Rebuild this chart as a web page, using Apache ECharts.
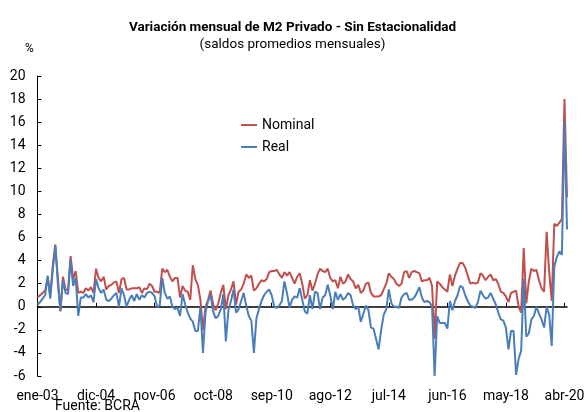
<!DOCTYPE html>
<html>
<head>
<meta charset="UTF-8">
<title>M2 Privado</title>
<script src="https://cdn.jsdelivr.net/npm/echarts@6/dist/echarts.min.js"></script>
<style>
  html, body { margin: 0; padding: 0; background: #fff; }
  #main { width: 585px; height: 412px; }
</style>
</head>
<body>
<div id="main"></div>
<script>
// meses ene-03 .. may-20
var mesesCortos = ['ene','feb','mar','abr','may','jun','jul','ago','sep','oct','nov','dic'];
var meses = [];
for (var y = 2003; y <= 2020; y++) {
  for (var m = 0; m < 12; m++) {
    if (y === 2020 && m > 4) break;
    meses.push(mesesCortos[m] + '-' + String(y).slice(2));
  }
}

// variación mensual nominal (%)
var nominal = [
  0.8,1.0,1.2,1.4,2.5,1.0,3.6,5.4,2.5,-0.4,2.6,1.5,
  1.4,4.4,2.4,3.1,1.2,1.3,1.2,1.6,1.4,1.7,1.2,3.3,
  2.5,2.2,2.6,1.5,1.8,1.9,2.1,2.2,1.2,2.4,2.5,1.5,
  1.5,1.6,1.6,1.6,1.7,1.2,1.6,1.5,2.0,1.8,1.3,1.3,
  1.2,3.3,3.0,3.2,2.6,2.2,2.5,2.5,0.8,1.8,1.4,1.3,
  0.6,3.6,2.4,1.9,0.6,-2.0,0.0,0.6,1.4,0.2,-0.3,0.3,
  1.2,1.9,-0.2,1.0,1.5,2.2,0.2,1.3,1.5,2.0,2.8,2.5,
  2.7,1.4,1.6,2.0,2.3,2.2,2.4,3.0,3.1,3.1,3.2,2.8,
  2.5,3.0,2.7,3.0,2.5,2.0,2.6,2.9,2.0,0.7,1.0,2.3,
  1.4,2.0,2.8,3.3,3.1,3.0,3.3,2.5,2.2,2.3,1.6,2.6,
  2.0,2.2,2.8,2.4,2.2,1.6,1.9,1.2,1.4,2.0,2.1,1.2,
  0.9,0.9,0.9,1.0,1.5,2.0,2.9,2.6,2.4,2.0,1.8,2.0,
  3.0,3.1,2.5,3.0,3.1,3.0,2.9,2.2,2.3,2.3,2.5,1.8,
  -2.8,2.2,2.0,1.7,1.5,1.3,2.8,1.8,2.7,3.3,3.8,3.8,
  3.4,2.7,2.0,2.1,2.0,2.1,2.9,2.7,2.3,2.6,2.8,2.3,
  2.4,2.0,1.3,1.2,0.9,0.4,1.2,1.3,1.4,0.0,-0.5,5.1,
  0.3,2.2,3.3,3.1,3.2,2.3,1.6,1.3,6.5,3.0,0.5,7.2,
  7.0,7.3,7.6,18.0,9.5
];

// variación mensual real (%)
var real = [
  0.2,0.4,0.7,1.0,2.7,0.7,3.2,5.3,2.0,-0.3,2.3,1.2,
  1.1,4.1,1.8,2.5,-0.8,0.8,0.8,1.1,0.8,1.0,0.4,2.4,
  1.6,1.2,1.5,0.6,0.5,0.7,1.0,1.2,0.0,1.6,1.0,0.0,
  0.6,1.0,0.5,1.1,0.6,1.0,0.8,1.2,1.3,1.2,0.9,0.0,
  0.1,2.5,1.2,0.7,0.9,0.0,-0.2,-0.1,-0.8,1.1,0.2,-0.5,
  -1.0,-1.3,-2.1,-2.1,0.0,-4.0,-0.5,0.5,1.0,-0.4,-1.0,-0.8,
  -0.2,1.1,-3.0,-0.3,0.5,1.5,-0.5,-0.2,0.5,1.2,0.1,-0.8,
  -1.2,-4.0,-1.0,-0.2,0.5,1.0,1.3,1.5,1.0,0.0,-0.1,0.1,
  0.5,2.2,1.2,-0.1,0.6,0.9,0.8,1.6,0.6,-0.4,-0.6,1.0,
  -0.2,1.3,1.2,-0.2,0.8,1.0,1.9,1.0,-0.2,1.3,0.6,1.1,
  0.6,0.8,1.2,1.0,0.1,-0.2,0.0,-1.3,-0.6,0.1,-0.3,-1.8,
  -1.9,-2.8,-3.7,-2.0,-0.7,-0.2,1.5,0.3,0.0,0.0,-0.1,0.8,
  1.1,1.2,0.6,0.6,0.8,1.2,1.7,0.8,0.4,0.5,0.4,0.0,
  -6.0,-0.8,-1.4,-1.4,-1.4,-1.9,0.5,-0.3,0.5,1.0,1.8,1.7,
  1.0,0.5,0.1,0.0,-0.1,0.4,1.4,1.0,0.7,0.8,1.2,0.7,
  0.2,-0.5,-1.1,-1.2,-1.8,-3.7,-2.1,-2.1,-5.9,-4.5,-3.8,2.4,
  -2.6,-2.3,-1.1,-0.8,0.0,-0.6,-1.1,-1.8,0.0,-0.7,-3.4,3.5,
  4.3,4.8,4.5,16.0,6.7
];

var yMin = -6, yMax = 20, yStep = 2;
var paso = 23; // etiqueta cada 23 meses

// área de trazado
var gLeft = 37.5, gRight = 18, gTop = 76, gBottom = 36;
var anchoMes = (585 - gLeft - gRight) / (meses.length - 1);

var myChart = echarts.init(document.getElementById('main'), null, { renderer: 'canvas' });
var fuente = 'Roboto, "Noto Sans", sans-serif';

var option = {
  animation: false,
  backgroundColor: '#fff',
  textStyle: { fontFamily: fuente },
  title: {
    text: 'Variación mensual de M2 Privado - Sin Estacionalidad',
    subtext: '(saldos promedios mensuales)',
    left: 'center',
    top: 16,
    itemGap: 3,
    textStyle: { fontSize: 13.5, fontWeight: 'bold', color: '#000', fontFamily: fuente },
    subtextStyle: { fontSize: 13.5, color: '#000', fontFamily: fuente }
  },
  legend: {
    data: ['Nominal', 'Real'],
    orient: 'vertical',
    left: 236,
    top: 113,
    itemWidth: 16,
    itemHeight: 2,
    itemGap: 8,
    icon: 'rect',
    textStyle: { fontSize: 14, color: '#000', fontFamily: fuente }
  },
  grid: [
    { left: gLeft, right: gRight, top: gTop, bottom: gBottom, containLabel: false, outerBoundsMode: 'none' },
    // misma escala, un paso más a la izquierda: solo para las etiquetas de fecha
    { left: gLeft - paso * anchoMes, right: gRight, top: gTop, bottom: gBottom, containLabel: false, outerBoundsMode: 'none' }
  ],
  xAxis: [
    {
      gridIndex: 1,
      type: 'value',
      min: -paso,
      max: meses.length - 1,
      interval: paso,
      axisLine: { show: false, onZero: false },
      axisTick: { show: false },
      splitLine: { show: false },
      axisLabel: {
        color: '#000', fontSize: 14, margin: 13, fontFamily: fuente,
        showMinLabel: false, showMaxLabel: false, hideOverlap: false,
        formatter: function (v) { return v < 0 ? '' : (meses[Math.round(v)] || ''); }
      }
    },
    {
      gridIndex: 0,
      type: 'category',
      data: meses,
      boundaryGap: false,
      position: 'bottom',
      axisLine: { show: true, onZero: true, lineStyle: { color: '#000', width: 1.5 } },
      axisTick: { show: true, inside: true, interval: paso - 1, length: 4, lineStyle: { color: '#000' } },
      axisLabel: { show: false },
      splitLine: { show: false }
    }
  ],
  yAxis: [
    {
      gridIndex: 0,
      type: 'value',
      min: yMin,
      max: yMax,
      interval: yStep,
      axisLine: { show: true, lineStyle: { color: '#000', width: 1 } },
      axisTick: { show: true, inside: true, length: 4, lineStyle: { color: '#000' } },
      splitLine: { show: false },
      axisLabel: { color: '#000', fontSize: 14, margin: 12, fontFamily: fuente }
    },
    { gridIndex: 1, type: 'value', min: yMin, max: yMax, show: false }
  ],
  graphic: [
    { type: 'text', left: 25, top: 43, style: { text: '%', fontSize: 12, fill: '#000', fontFamily: fuente } },
    { type: 'text', left: 55, top: 399, style: { text: 'Fuente: BCRA', fontSize: 14, fill: '#000', fontFamily: fuente } }
  ],
  series: [
    {
      name: 'Nominal',
      type: 'line',
      data: nominal,
      xAxisIndex: 1,
      yAxisIndex: 0,
      showSymbol: false,
      symbol: 'none',
      itemStyle: { color: '#C0504D' },
      lineStyle: { color: '#C0504D', width: 2 }
    },
    {
      name: 'Real',
      type: 'line',
      data: real,
      xAxisIndex: 1,
      yAxisIndex: 0,
      showSymbol: false,
      symbol: 'none',
      itemStyle: { color: '#4A7EBB' },
      lineStyle: { color: '#4A7EBB', width: 2 }
    }
  ]
};
myChart.setOption(option);
</script>
</body>
</html>
